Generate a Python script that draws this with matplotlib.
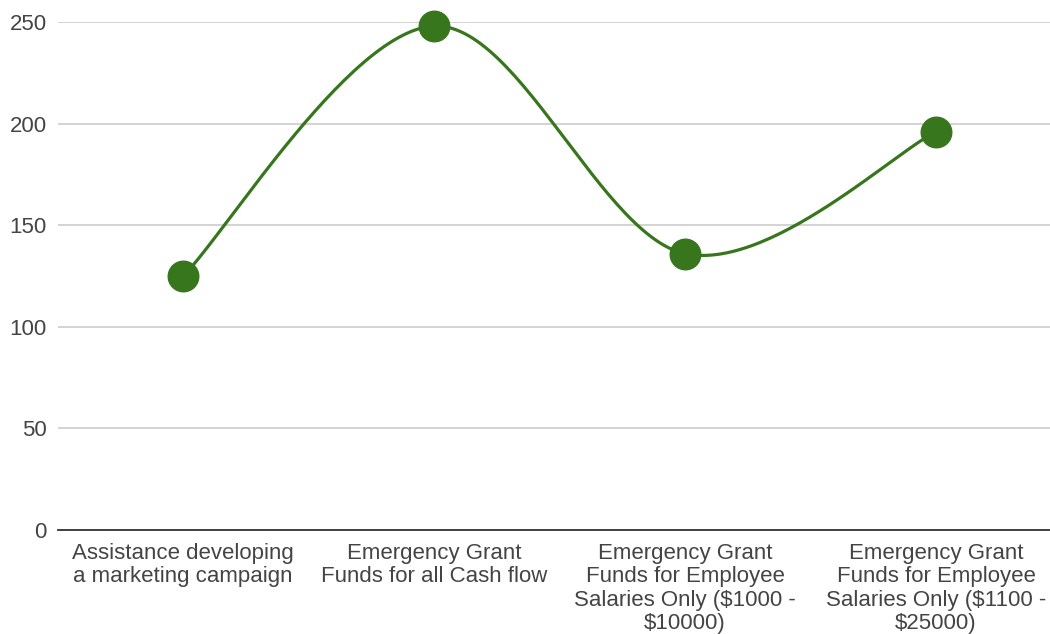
import numpy as np
import matplotlib
matplotlib.use("Agg")
import matplotlib.pyplot as plt

categories = [
    "Assistance developing\na marketing campaign",
    "Emergency Grant\nFunds for all Cash flow",
    "Emergency Grant\nFunds for Employee\nSalaries Only ($1000 -\n$10000)",
    "Emergency Grant\nFunds for Employee\nSalaries Only ($1100 -\n$25000)",
]
values = [125, 248, 136, 196]
y_ticks = [0, 50, 100, 150, 200, 250]

LINE_COLOR = "#38761d"

plt.rcParams["font.family"] = ["Liberation Sans", "DejaVu Sans"]


def smooth_curve(xs, ys, tension=1 / 6, steps=60):
    """Bezier smoothing through every point (function-style curve)."""
    pts = np.column_stack([xs, ys]).astype(float)
    n = len(pts)
    out = []
    for i in range(n - 1):
        p0 = pts[i - 1] if i > 0 else pts[i]
        p1 = pts[i]
        p2 = pts[i + 1]
        p3 = pts[i + 2] if i + 2 < n else pts[i + 1]
        c1 = p1 + (p2 - p0) * tension
        c2 = p2 - (p3 - p1) * tension
        t = np.linspace(0, 1, steps)[:, None]
        seg = ((1 - t) ** 3) * p1 + 3 * ((1 - t) ** 2) * t * c1 + 3 * (1 - t) * t ** 2 * c2 + t ** 3 * p2
        out.append(seg if i == 0 else seg[1:])
    curve = np.vstack(out)
    return curve[:, 0], curve[:, 1]


fig = plt.figure(figsize=(10.5, 6.34), dpi=100)
ax = fig.add_axes([0.055, 0.164, 0.956, 0.8013])

x = np.arange(len(values))
cx, cy = smooth_curve(x, values)
ax.plot(cx, cy, color=LINE_COLOR, linewidth=2.3, solid_capstyle="round", zorder=3, clip_on=False)
ax.plot(x, values, "o", color=LINE_COLOR, markersize=22, zorder=4, clip_on=False)

ax.set_xlim(-0.5, len(values) - 0.5)
ax.set_ylim(0, 250)
ax.set_yticks(y_ticks)
ax.set_xticks(x)
ax.set_xticklabels(categories, linespacing=1.16)

ax.grid(axis="y", color="#cccccc", linewidth=1.2)
ax.set_axisbelow(True)
for side in ["top", "right", "left"]:
    ax.spines[side].set_visible(False)
ax.spines["bottom"].set_color("#333333")
ax.spines["bottom"].set_linewidth(1.3)
ax.spines["bottom"].set_zorder(2)

ax.tick_params(axis="both", length=0, labelsize=16, labelcolor="#444444")
ax.tick_params(axis="y", pad=8)
ax.tick_params(axis="x", pad=9)

fig.savefig("out.png", dpi=100, facecolor="white")
